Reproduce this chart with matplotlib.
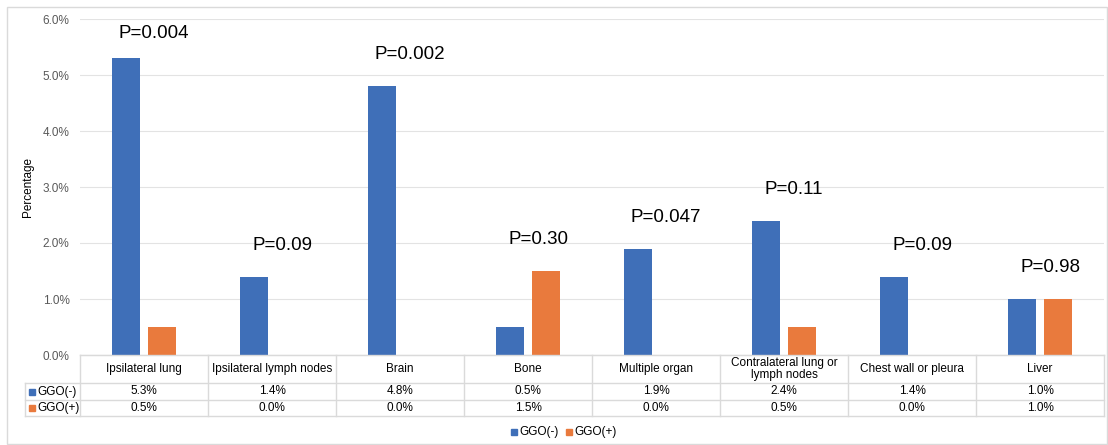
import numpy as np
import matplotlib
matplotlib.use("Agg")
import matplotlib.pyplot as plt
from matplotlib.lines import Line2D
from matplotlib.patches import Rectangle

plt.rcParams['font.family'] = ['Liberation Sans', 'DejaVu Sans']

categories = ["Ipsilateral lung", "Ipsilateral lymph nodes", "Brain", "Bone",
              "Multiple organ", "Contralateral lung or\nlymph nodes",
              "Chest wall or pleura", "Liver"]
ggo_neg = [5.3, 1.4, 4.8, 0.5, 1.9, 2.4, 1.4, 1.0]
ggo_pos = [0.5, 0.0, 0.0, 1.5, 0.0, 0.5, 0.0, 1.0]
p_values = ["P=0.004", "P=0.09", "P=0.002", "P=0.30", "P=0.047",
            "P=0.11", "P=0.09", "P=0.98"]
series_names = ["GGO(-)", "GGO(+)"]

blue = "#3F6FB8"
orange = "#E97A3D"
grid_c = "#E3E3E3"

W, H = 1108, 445
fig = plt.figure(figsize=(W / 100, H / 100), dpi=100)

# pixel helpers (y measured from top)
def fx(px):
    return px / W

def fy(py):
    return 1 - py / H

x0, x1 = 80, 1104
y_top, y_zero = 19, 355
ax = fig.add_axes([fx(x0), fy(y_zero), fx(x1) - fx(x0), fy(y_top) - fy(y_zero)])

n = len(categories)
x = np.arange(n)
w = 0.22
off = 0.14
ax.bar(x - off, ggo_neg, w, color=blue, zorder=3)
ax.bar(x + off, ggo_pos, w, color=orange, zorder=3)

for i, p in enumerate(p_values):
    top = max(ggo_neg[i], ggo_pos[i])
    ax.text(x[i] + 0.08, min(top + 0.56, 5.75), p, ha="center", va="center",
            fontsize=13.5, color="black")

ax.set_xlim(-0.5, n - 0.5)
ax.set_ylim(0, 6)
ax.set_yticks(np.arange(0, 6.1, 1))
ax.set_yticklabels([f"{v:.1f}%" for v in np.arange(0, 6.1, 1)],
                   fontsize=8.5, color="#595959")
ax.set_xticks([])
ax.tick_params(axis="y", length=0, pad=7.5)
ax.grid(axis="y", color=grid_c, linewidth=0.8, zorder=0)
for s in ["top", "right", "left"]:
    ax.spines[s].set_visible(False)
ax.spines["bottom"].set_color(grid_c)
fig.text(fx(28), fy(187), "Percentage", rotation=90, ha="center",
         va="center", fontsize=8.5, color="black")

# data table under the axis
rows = [383, 400, 416]
col_w = (x1 - x0) / n
lc = "#DADADA"
lines = []
lines.append(([fx(x0), fx(x1)], [fy(y_zero), fy(y_zero)]))
for r in rows:
    lines.append(([fx(25), fx(x1)], [fy(r), fy(r)]))
for k in range(n + 1):
    xp = x0 + k * col_w
    lines.append(([fx(xp), fx(xp)], [fy(y_zero), fy(rows[-1])]))
lines.append(([fx(25), fx(25)], [fy(rows[0]), fy(rows[-1])]))
for xs, ys in lines:
    fig.add_artist(Line2D(xs, ys, color=lc, linewidth=1))

for i, c in enumerate(categories):
    cx = x0 + (i + 0.5) * col_w
    fig.text(fx(cx), fy((y_zero + rows[0]) / 2), c, ha="center", va="center",
             fontsize=8.5, color="black", linespacing=1.1)
    fig.text(fx(cx), fy((rows[0] + rows[1]) / 2), f"{ggo_neg[i]:.1f}%",
             ha="center", va="center", fontsize=8.5, color="black")
    fig.text(fx(cx), fy((rows[1] + rows[2]) / 2), f"{ggo_pos[i]:.1f}%",
             ha="center", va="center", fontsize=8.5, color="black")

for j, (name, col) in enumerate(zip(series_names, [blue, orange])):
    yc = (rows[j] + rows[j + 1]) / 2
    fig.add_artist(Rectangle((fx(29), fy(yc + 3)), fx(6), 6 / H,
                             color=col, transform=fig.transFigure))
    fig.text(fx(37), fy(yc), name, ha="left", va="center", fontsize=8.5,
             color="black")

# legend at the bottom
leg_y = 432
for lx, name, col in [(511, series_names[0], blue), (566, series_names[1], orange)]:
    fig.add_artist(Rectangle((fx(lx), fy(leg_y + 3)), fx(6), 6 / H,
                             color=col, transform=fig.transFigure))
    fig.text(fx(lx + 8), fy(leg_y), name, ha="left", va="center",
             fontsize=8.5, color="black")

# chart frame
fig.add_artist(Rectangle((fx(7), fy(H - 1)), fx(W - 8), fy(7) - fy(H - 1),
                         fill=False, edgecolor=lc, linewidth=1,
                         transform=fig.transFigure))

fig.savefig("out.png", dpi=100)
